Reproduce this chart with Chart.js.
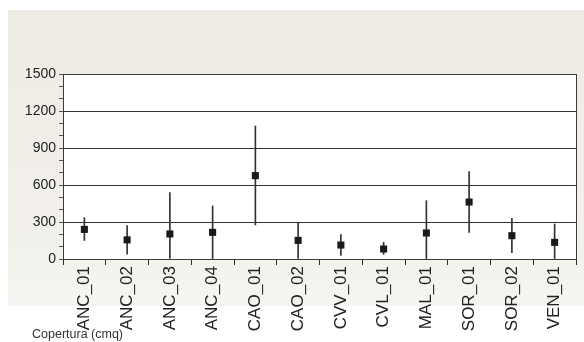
<!DOCTYPE html>
<html>
<head>
<meta charset="utf-8">
<script src="https://cdn.jsdelivr.net/npm/chart.js@4/dist/chart.umd.min.js"></script>
<style>
  html, body { margin: 0; padding: 0; background: #fff; }
  canvas { display: block; }
</style>
</head>
<body>
<canvas id="grafico" width="584" height="342"></canvas>
<script>
const categorie = ['ANC_01', 'ANC_02', 'ANC_03', 'ANC_04', 'CAO_01', 'CAO_02', 'CVV_01', 'CVL_01', 'MAL_01', 'SOR_01', 'SOR_02', 'VEN_01'];
const media = [240, 155, 203, 216, 676, 151, 113, 81, 211, 462, 189, 135];
const minimo = [150, 40, 0, 0, 276, 0, 30, 38, 0, 216, 51, 0];
const massimo = [335, 270, 538, 430, 1078, 297, 198, 135, 473, 708, 330, 284];
const tickY = [0, 300, 600, 900, 1200, 1500];

const font = "'Liberation Sans', Arial, sans-serif";
const scuro = '#2b2b2b';

// sfondo beige + area bianca + etichetta in basso
const sfondo = {
    id: 'sfondo',
    beforeDraw(chart) {
        const ctx = chart.ctx;
        const a = chart.chartArea;
        ctx.save();
        ctx.fillStyle = '#ffffff';
        ctx.fillRect(0, 0, chart.width, chart.height);
        const g = ctx.createLinearGradient(0, 10, 0, 306);
        g.addColorStop(0, '#eeebe4');
        g.addColorStop(0.8, '#f3f1ec');
        g.addColorStop(1, '#f6f5f1');
        ctx.fillStyle = g;
        ctx.fillRect(8, 10, chart.width - 8, 296);
        ctx.fillStyle = '#ffffff';
        ctx.fillRect(a.left, a.top, a.right - a.left, a.bottom - a.top);
        ctx.restore();
    },
    afterDraw(chart) {
        const ctx = chart.ctx;
        const a = chart.chartArea;
        ctx.save();
        ctx.strokeStyle = '#3a3a3a';
        ctx.lineWidth = 1;
        ctx.strokeRect(Math.round(a.left) + 0.5, Math.round(a.top) + 0.5, Math.round(a.right - a.left), Math.round(a.bottom - a.top));
        ctx.fillStyle = '#333';
        ctx.font = '12.5px ' + font;
        ctx.textBaseline = 'alphabetic';
        ctx.fillText('Copertura (cmq)', 32, 338);
        ctx.restore();
    }
};

new Chart(document.getElementById('grafico'), {
    type: 'bar',
    data: {
        labels: categorie,
        datasets: [
            {
                type: 'bar',
                label: 'intervallo',
                data: categorie.map((c, i) => [minimo[i], massimo[i]]),
                backgroundColor: '#333333',
                barThickness: 1,
                grouped: false,
                order: 2
            },
            {
                type: 'line',
                label: 'media',
                data: media,
                showLine: false,
                pointStyle: 'rect',
                pointRadius: 5,
                pointHoverRadius: 5,
                pointBackgroundColor: '#1a1a1a',
                pointBorderColor: '#1a1a1a',
                pointBorderWidth: 0,
                order: 1
            }
        ]
    },
    options: {
        responsive: false,
        animation: false,
        layout: { padding: { top: 74, right: 8, left: 0, bottom: 0 } },
        plugins: {
            legend: { display: false },
            tooltip: { enabled: false }
        },
        scales: {
            x: {
                offset: true,
                grid: { offset: true, drawOnChartArea: false, color: scuro, tickLength: 6 },
                border: { color: scuro },
                ticks: {
                    color: '#222',
                    font: { family: font, size: 17 },
                    minRotation: 90,
                    maxRotation: 90,
                    autoSkip: false,
                    padding: 1
                },
                afterFit(s) { s.height = 83; s.paddingLeft = 0; s.paddingRight = 0; }
            },
            y: {
                min: 0,
                max: 1500,
                ticks: {
                    stepSize: 100,
                    autoSkip: false,
                    color: '#222',
                    font: { family: font, size: 14 },
                    padding: 3,
                    callback: v => tickY.includes(v) ? String(v) : ''
                },
                grid: {
                    color: c => (c.tick && c.tick.value % 300 === 0) ? '#333' : 'rgba(0,0,0,0)',
                    tickColor: '#555',
                    tickLength: 4
                },
                border: { color: scuro },
                afterFit(s) { s.width = 63; }
            }
        }
    },
    plugins: [sfondo]
});
</script>
</body>
</html>
